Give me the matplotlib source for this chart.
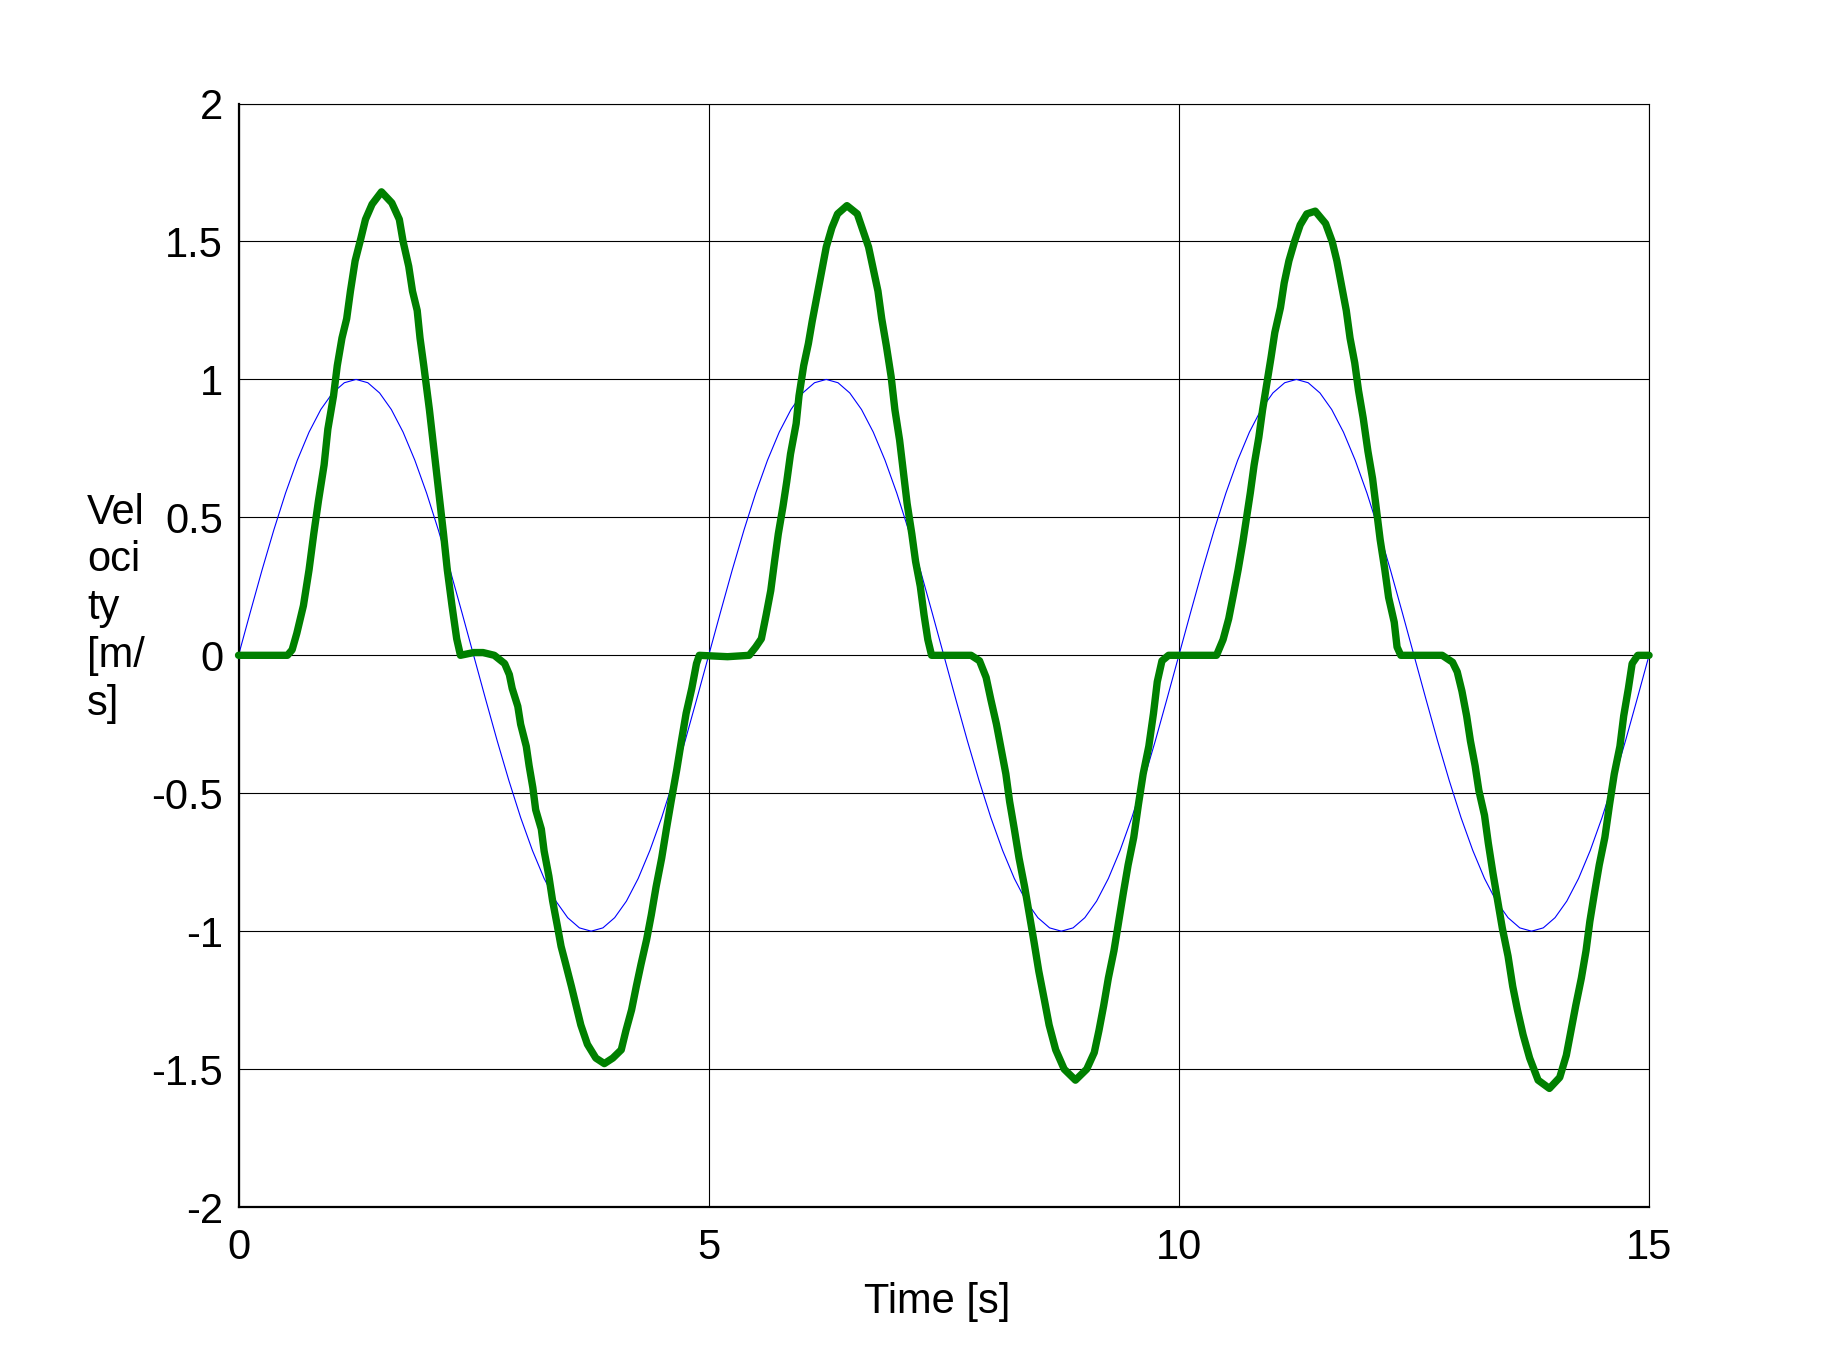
import numpy as np
import matplotlib
matplotlib.use("Agg")
import matplotlib.pyplot as plt

plt.rcParams['font.family'] = ['Liberation Sans', 'DejaVu Sans']

# reference sine (blue), read every 0.125 s
blue_t = np.arange(0, 15.001, 0.125)
blue_v = [0, 0.156, 0.309, 0.454, 0.588, 0.707, 0.809, 0.891, 0.951, 0.988,
          1.0, 0.988, 0.951, 0.891, 0.809, 0.707, 0.588, 0.454, 0.309, 0.156,
          0, -0.156, -0.309, -0.454, -0.588, -0.707, -0.809, -0.891, -0.951, -0.988,
          -1.0, -0.988, -0.951, -0.891, -0.809, -0.707, -0.588, -0.454, -0.309, -0.156,
          0, 0.156, 0.309, 0.454, 0.588, 0.707, 0.809, 0.891, 0.951, 0.988,
          1.0, 0.988, 0.951, 0.891, 0.809, 0.707, 0.588, 0.454, 0.309, 0.156,
          0, -0.156, -0.309, -0.454, -0.588, -0.707, -0.809, -0.891, -0.951, -0.988,
          -1.0, -0.988, -0.951, -0.891, -0.809, -0.707, -0.588, -0.454, -0.309, -0.156,
          0, 0.156, 0.309, 0.454, 0.588, 0.707, 0.809, 0.891, 0.951, 0.988,
          1.0, 0.988, 0.951, 0.891, 0.809, 0.707, 0.588, 0.454, 0.309, 0.156,
          0, -0.156, -0.309, -0.454, -0.588, -0.707, -0.809, -0.891, -0.951, -0.988,
          -1.0, -0.988, -0.951, -0.891, -0.809, -0.707, -0.588, -0.454, -0.309, -0.156,
          0]

# measured velocity (green)
green_t = [0, 0.52, 0.57, 0.62, 0.69, 0.75, 0.80, 0.85, 0.91, 0.95, 1.01, 1.05, 1.10, 1.15,
           1.19, 1.24, 1.30, 1.35, 1.42, 1.52, 1.63, 1.71, 1.75, 1.81, 1.85, 1.90, 1.93, 1.97,
           2.03, 2.08, 2.13, 2.18, 2.22, 2.27, 2.32, 2.36, 2.50, 2.60, 2.72, 2.83, 2.88, 2.91,
           2.97, 3.00, 3.06, 3.09, 3.13, 3.16, 3.22, 3.25, 3.30, 3.34, 3.39, 3.43, 3.48, 3.54,
           3.59, 3.64, 3.71, 3.80, 3.89, 3.98, 4.07, 4.12, 4.18, 4.23, 4.28, 4.34, 4.39, 4.44,
           4.50, 4.55, 4.60, 4.66, 4.71, 4.76, 4.82, 4.87, 4.90,
           5.20, 5.43, 5.50, 5.56, 5.61, 5.66, 5.70, 5.74, 5.79, 5.83, 5.87, 5.93, 5.96, 6.01,
           6.06, 6.10, 6.15, 6.20, 6.25, 6.31, 6.37, 6.47, 6.58, 6.65, 6.70, 6.75, 6.80, 6.84,
           6.89, 6.94, 6.98, 7.03, 7.07, 7.11, 7.16, 7.20, 7.25, 7.29, 7.33, 7.37, 7.79, 7.88,
           7.95, 8.00, 8.06, 8.11, 8.16, 8.20, 8.25, 8.30, 8.36, 8.41, 8.46, 8.51, 8.57, 8.62,
           8.69, 8.78, 8.90, 9.02, 9.10, 9.15, 9.20, 9.25, 9.31, 9.36, 9.41, 9.46, 9.52, 9.57,
           9.62, 9.68, 9.73, 9.77, 9.82, 9.89,
           10.40, 10.47, 10.53, 10.58, 10.63, 10.68, 10.72, 10.76, 10.80, 10.85, 10.89, 10.94,
           10.98, 11.02, 11.08, 11.12, 11.17, 11.23, 11.29, 11.36, 11.45, 11.56, 11.63, 11.68,
           11.73, 11.78, 11.82, 11.87, 11.91, 11.96, 12.01, 12.06, 12.10, 12.14, 12.19, 12.23,
           12.29, 12.32, 12.36, 12.80, 12.91, 12.96, 13.01, 13.06, 13.10, 13.15, 13.19, 13.25,
           13.29, 13.34, 13.39, 13.44, 13.50, 13.55, 13.60, 13.66, 13.73, 13.82, 13.94, 14.05,
           14.12, 14.17, 14.22, 14.28, 14.33, 14.37, 14.42, 14.47, 14.53, 14.58, 14.63, 14.69,
           14.73, 14.78, 14.82, 14.88, 15.0]
green_v = [0, 0, 0.02, 0.08, 0.18, 0.31, 0.44, 0.56, 0.69, 0.82, 0.94, 1.05, 1.15, 1.22,
           1.32, 1.43, 1.51, 1.58, 1.635, 1.68, 1.64, 1.58, 1.50, 1.41, 1.32, 1.25, 1.15, 1.05,
           0.89, 0.74, 0.59, 0.44, 0.31, 0.18, 0.06, 0.0, 0.01, 0.01, 0.0, -0.03, -0.07, -0.12,
           -0.185, -0.25, -0.33, -0.40, -0.48, -0.56, -0.63, -0.71, -0.80, -0.89, -0.98, -1.055, -1.12, -1.20,
           -1.27, -1.34, -1.41, -1.46, -1.48, -1.46, -1.43, -1.36, -1.285, -1.20, -1.12, -1.03, -0.94, -0.84,
           -0.735, -0.63, -0.53, -0.415, -0.31, -0.21, -0.12, -0.03, 0.0,
           -0.005, 0.0, 0.03, 0.06, 0.145, 0.235, 0.34, 0.44, 0.54, 0.63, 0.73, 0.84, 0.94, 1.05,
           1.13, 1.21, 1.30, 1.39, 1.48, 1.55, 1.60, 1.63, 1.60, 1.53, 1.48, 1.40, 1.32, 1.22,
           1.12, 1.01, 0.89, 0.78, 0.665, 0.55, 0.44, 0.34, 0.25, 0.146, 0.057, 0.0, 0.0, -0.02,
           -0.08, -0.16, -0.25, -0.34, -0.43, -0.53, -0.63, -0.735, -0.84, -0.94, -1.04, -1.145, -1.25, -1.34,
           -1.43, -1.50, -1.54, -1.50, -1.44, -1.36, -1.27, -1.17, -1.07, -0.965, -0.86, -0.76, -0.66, -0.54,
           -0.43, -0.33, -0.21, -0.096, -0.02, 0.0,
           0.0, 0.057, 0.133, 0.22, 0.31, 0.41, 0.50, 0.59, 0.69, 0.79, 0.89, 0.995,
           1.08, 1.17, 1.26, 1.35, 1.43, 1.50, 1.56, 1.60, 1.61, 1.565, 1.50, 1.43,
           1.34, 1.25, 1.15, 1.06, 0.96, 0.86, 0.74, 0.64, 0.53, 0.42, 0.31, 0.21,
           0.12, 0.03, 0.0, 0.0, -0.025, -0.06, -0.13, -0.22, -0.31, -0.40, -0.49, -0.58,
           -0.68, -0.79, -0.89, -0.99, -1.09, -1.20, -1.285, -1.375, -1.46, -1.54, -1.57, -1.53,
           -1.45, -1.36, -1.27, -1.17, -1.07, -0.965, -0.86, -0.76, -0.66, -0.54, -0.43, -0.33,
           -0.22, -0.12, -0.03, 0.0, 0.0]

x_ticks = [0, 5, 10, 15]
y_ticks = [2, 1.5, 1, 0.5, 0, -0.5, -1, -1.5, -2]
y_tick_labels = ['2', '1.5', '1', '0.5', '0', '-0.5', '-1', '-1.5', '-2']

fig = plt.figure(figsize=(18.25, 13.59), dpi=100)
ax = fig.add_axes([0.1307, 0.1118, 0.7729, 0.812])

ax.plot(blue_t, blue_v, color='#0000ff', lw=0.8)
ax.plot(green_t, green_v, color='#008000', lw=5.3, solid_joinstyle='round',
        solid_capstyle='round', clip_on=False, zorder=3)

ax.set_xlim(0, 15)
ax.set_ylim(-2, 2)
ax.set_xticks(x_ticks)
ax.set_xticklabels([str(t) for t in x_ticks])
ax.set_yticks(y_ticks)
ax.set_yticklabels(y_tick_labels)
ax.tick_params(axis='both', length=0, labelsize=30)
ax.tick_params(axis='x', pad=15)
ax.tick_params(axis='y', pad=11)
ax.grid(True, color='black', lw=0.8)
ax.set_axisbelow(True)

for side in ['left', 'bottom']:
    ax.spines[side].set_linewidth(1.6)
for side in ['top', 'right']:
    ax.spines[side].set_linewidth(0.8)

ax.set_xlabel('Time [s]', fontsize=30, labelpad=10)
ax.xaxis.label.set_x(0.4955)
fig.text(0.0477, 0.5525, 'Vel\noci\nty\n[m/\ns]', fontsize=30, ha='left', va='center',
         linespacing=1.25)

fig.savefig('out.png', dpi=100)
